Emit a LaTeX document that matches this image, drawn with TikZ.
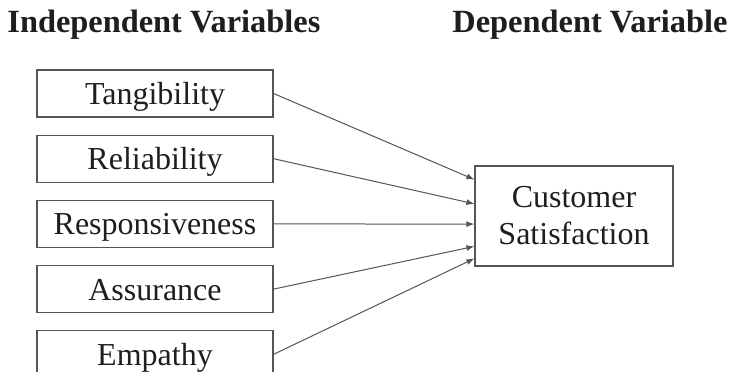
\documentclass[tikz,border=0pt]{standalone}
\usepackage{fontspec}
\setmainfont{Liberation Serif}
\usepackage{tikz}
\usetikzlibrary{arrows.meta,positioning,calc}
\definecolor{edge}{RGB}{85,85,85}
\definecolor{ink}{RGB}{30,30,30}

\begin{document}
\begin{tikzpicture}[
  x=0.5pt, y=0.5pt,
  varbox/.style={
    draw=edge,
    line width=.6pt,
    text=ink,
    minimum width=118pt,
    text height=17.25pt,
    text depth=6.25pt,
    inner sep=0pt,
    font=\fontsize{16}{18.5}\selectfont
  },
  depbox/.style={draw=edge,line width=.6pt,text=ink,inner sep=0pt,
    minimum width=99pt,minimum height=50pt,align=center,
    font=\fontsize{16}{18.5}\selectfont},
  heading/.style={anchor=base west,inner sep=0pt,text=ink,
    font=\fontsize{16.2}{19}\selectfont\bfseries},
  link/.style={draw=edge,line width=.5pt,-{Latex[length=4pt,width=3pt]}}
]
\useasboundingbox (0,0) rectangle (732,-371);
\node[heading] (indep) at (7,-32) {Independent Variables};
\node[heading] (dep) at (452,-32) {Dependent Variable};

\node[varbox] (tang) at (155,-93.5) {Tangibility};
\node[varbox,below=8.5pt of tang] (reli) {Reliability};
\node[varbox,below=8.5pt of reli] (resp) {Responsiveness};
\node[varbox,below=8.5pt of resp] (assu) {Assurance};
\node[varbox,below=8.5pt of assu] (empa) {Empathy};

\node[depbox] (cs) at (574,-216) {Customer\\Satisfaction};

% arrow ends along the left side of the dependent box
\foreach \src/\f [count=\i] in {tang/0.14,reli/0.38,resp/0.58,assu/0.80,empa/0.92}{
  \coordinate (in\i) at ($(cs.north west)!\f!(cs.south west)$);
  \draw[link] (\src.east) -- (in\i);
}
\end{tikzpicture}
\end{document}
